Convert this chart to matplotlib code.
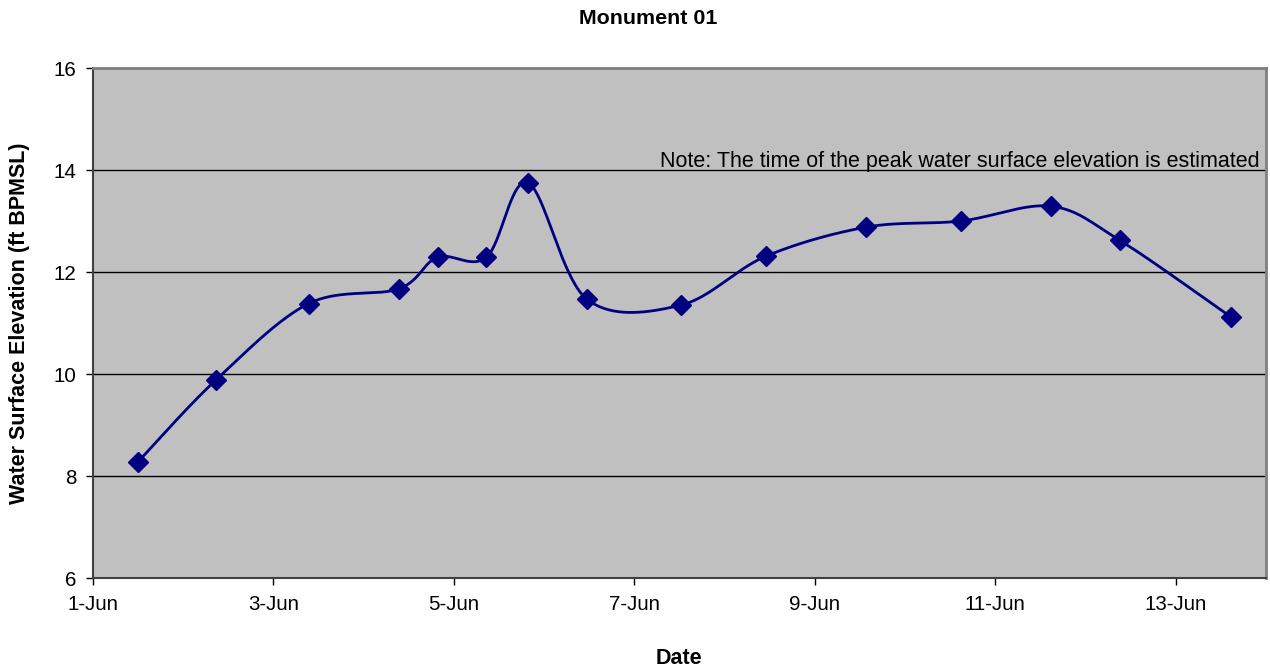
import numpy as np
import pandas as pd
import matplotlib
matplotlib.use('Agg')
import matplotlib.pyplot as plt
import matplotlib.dates as mdates
import matplotlib.transforms as mtransforms

# data (date/time of each reading, elevation in ft BPMSL)
times = ['06-01 12:00', '06-02 08:40', '06-03 09:20', '06-04 09:20', '06-04 19:40',
         '06-05 08:40', '06-05 19:40', '06-06 11:20', '06-07 12:20', '06-08 11:00',
         '06-09 13:40', '06-10 14:50', '06-11 14:50', '06-12 09:10', '06-13 14:40']
elev = [8.28, 9.88, 11.38, 11.67, 12.29, 12.29, 13.75, 11.47, 11.35, 12.31,
        12.88, 13.00, 13.29, 12.62, 11.12]
title = 'Monument 01'
note = 'Note: The time of the peak water surface elevation is estimated'

dates = pd.to_datetime(['2004-' + t for t in times], format='%Y-%m-%d %H:%M')
xs = mdates.date2num(dates)
ys = np.array(elev)


def excel_smooth(x, y, n=40):
    # bezier segments like Excel's "smoothed line"
    px = np.concatenate([[x[0]], x, [x[-1]]])
    py = np.concatenate([[y[0]], y, [y[-1]]])
    ox, oy = [], []
    t = np.linspace(0, 1, n)
    for i in range(1, len(px) - 2):
        p0 = np.array([px[i], py[i]])
        p3 = np.array([px[i + 1], py[i + 1]])
        p1 = p0 + (np.array([px[i + 1], py[i + 1]]) - np.array([px[i - 1], py[i - 1]])) / 6
        p2 = p3 - (np.array([px[i + 2], py[i + 2]]) - np.array([px[i], py[i]])) / 6
        b = ((1 - t) ** 3)[:, None] * p0 + (3 * (1 - t) ** 2 * t)[:, None] * p1 \
            + (3 * (1 - t) * t ** 2)[:, None] * p2 + (t ** 3)[:, None] * p3
        ox.extend(b[:, 0])
        oy.extend(b[:, 1])
    return np.array(ox), np.array(oy)


plt.rcParams['font.family'] = ['Liberation Sans', 'DejaVu Sans']

fig = plt.figure(figsize=(12.7, 6.67), dpi=100)
ax = fig.add_axes([0.0732, 0.1334, 0.9236, 0.7646])
ax.set_facecolor('#C0C0C0')

sx, sy = excel_smooth(xs, ys)
ax.plot(sx, sy, color='#000080', lw=2, zorder=3)
ax.plot(xs, ys, linestyle='none', marker='D', markersize=10, color='#000080', zorder=4)

start = mdates.date2num(pd.Timestamp('2004-06-01'))
end = mdates.date2num(pd.Timestamp('2004-06-14'))
ax.set_xlim(start, end)
ax.set_ylim(6, 16)
ax.set_yticks(np.arange(6, 17, 2))
ax.xaxis.set_major_locator(mdates.DayLocator(bymonthday=[1, 3, 5, 7, 9, 11, 13]))
ax.xaxis.set_major_formatter(mdates.DateFormatter('%-d-%b'))

ax.grid(axis='y', color='black', lw=1)
ax.set_axisbelow(True)
for s in ['top', 'right']:
    ax.spines[s].set_color('#808080')
    ax.spines[s].set_linewidth(2)
for s in ['left', 'bottom']:
    ax.spines[s].set_color('#404040')
    ax.spines[s].set_linewidth(1.5)
ax.tick_params(direction='out', length=5, width=1, labelsize=14.8, pad=7)

fig.text(648 / 1270, 1 - 18 / 667, title, fontsize=15.4, fontweight='bold', ha='center', va='center')
fig.text(679 / 1270, 1 - 658 / 667, 'Date', fontsize=15.5, fontweight='bold', ha='center', va='center')
fig.text(20 / 1270, 1 - 323 / 667, 'Water Surface Elevation (ft BPMSL)', fontsize=15.5,
         fontweight='bold', ha='center', va='center', rotation=90)

trans = mtransforms.blended_transform_factory(ax.transAxes, ax.transData)
ax.text(0.9945, 14.05, note, transform=trans, ha='right', va='baseline', fontsize=15.5)

fig.savefig('out.png', dpi=100)
